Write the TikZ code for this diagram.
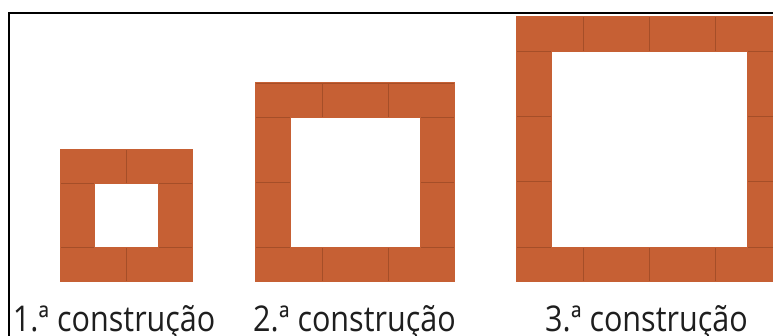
\documentclass[tikz,border=0pt]{standalone}
\usepackage{fontspec}
\setmainfont{Open Sans}
\definecolor{brick}{RGB}{198,96,52}
\definecolor{mortar}{RGB}{165,78,40}
\definecolor{txt}{RGB}{30,30,30}
\tikzset{
  brickbox/.style={fill=brick, draw=mortar, line width=0.8pt},
  brickedge/.style={draw=brick, line width=0.9pt},
  frameline/.style={line width=2.4pt, black},
  caption/.style={anchor=base west, inner sep=0pt, text=txt, font=\fontsize{35.5}{40}\selectfont}
}
\newcommand{\construct}[2]{% #1 left x, #2 n
  \pgfmathsetmacro{\L}{66.25}
  \pgfmathsetmacro{\T}{34.5}
  \pgfmathsetmacro{\yb}{281.7}
  \pgfmathsetmacro{\yt}{\yb-#2*\L}
  \pgfmathsetmacro{\xr}{#1+#2*\L}
  \pgfmathsetmacro{\H}{(#2*\L-2*\T)/(#2-1)}
  \foreach \i in {1,...,#2}{
    \draw[brickbox] ({#1+(\i-1)*\L},\yt) rectangle ({#1+\i*\L},\yt+\T);
    \draw[brickbox] ({#1+(\i-1)*\L},\yb-\T) rectangle ({#1+\i*\L},\yb);
  }
  \pgfmathtruncatemacro{\m}{#2-1}
  \foreach \j in {1,...,\m}{
    \draw[brickbox] (#1,{\yt+\T+(\j-1)*\H}) rectangle (#1+\T,{\yt+\T+\j*\H});
    \draw[brickbox] (\xr-\T,{\yt+\T+(\j-1)*\H}) rectangle (\xr,{\yt+\T+\j*\H});
  }
  \draw[brickedge] (#1,\yt) rectangle (\xr,\yb);
  \draw[brickedge] (#1+\T,\yt+\T) rectangle (\xr-\T,\yb-\T);
}
\begin{document}
\begin{tikzpicture}[x=1pt,y=-1pt]
\useasboundingbox (0,0) rectangle (773,336);
\clip (0,0) rectangle (773,336);
\fill[white] (0,0) rectangle (773,336);
\construct{60}{2}
\construct{255.7}{3}
\construct{516.7}{4}
\draw[frameline] (9,340) -- (9,13.3) -- (780,13.3);
\node[caption] (c1) at (12.7,331) {\scalebox{0.86}[1]{1.ª construção}};
\node[caption] (c2) at (253,331) {\scalebox{0.86}[1]{2.ª construção}};
\node[caption] (c3) at (545,331) {\scalebox{0.86}[1]{3.ª construção}};
\end{tikzpicture}
\end{document}
